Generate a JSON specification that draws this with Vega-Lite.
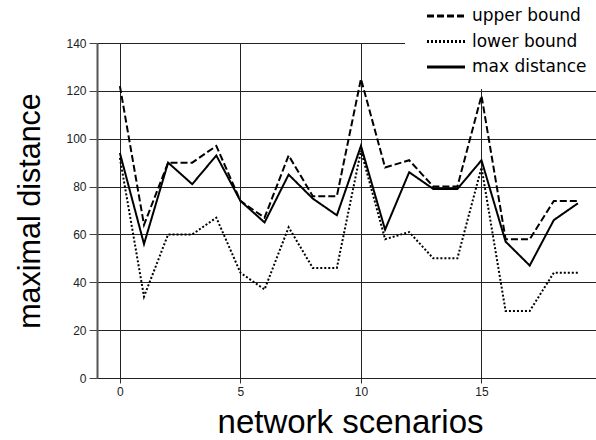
{
  "$schema": "https://vega.github.io/schema/vega-lite/v6.json",
  "width": 499,
  "height": 335,
  "autosize": {"type": "none"},
  "padding": {"left": 97, "top": 43, "right": 0, "bottom": 62},
  "background": "white",
  "config": {"view": {"stroke": null}},
  "data": {
    "values": [
      {"x": 0, "series": "upper bound", "value": 122},
      {"x": 1, "series": "upper bound", "value": 64},
      {"x": 2, "series": "upper bound", "value": 90},
      {"x": 3, "series": "upper bound", "value": 90},
      {"x": 4, "series": "upper bound", "value": 97},
      {"x": 5, "series": "upper bound", "value": 74},
      {"x": 6, "series": "upper bound", "value": 67},
      {"x": 7, "series": "upper bound", "value": 93},
      {"x": 8, "series": "upper bound", "value": 76},
      {"x": 9, "series": "upper bound", "value": 76},
      {"x": 10, "series": "upper bound", "value": 125},
      {"x": 11, "series": "upper bound", "value": 88},
      {"x": 12, "series": "upper bound", "value": 91},
      {"x": 13, "series": "upper bound", "value": 80},
      {"x": 14, "series": "upper bound", "value": 80},
      {"x": 15, "series": "upper bound", "value": 118},
      {"x": 16, "series": "upper bound", "value": 58},
      {"x": 17, "series": "upper bound", "value": 58},
      {"x": 18, "series": "upper bound", "value": 74},
      {"x": 19, "series": "upper bound", "value": 74},
      {"x": 0, "series": "lower bound", "value": 92},
      {"x": 1, "series": "lower bound", "value": 34},
      {"x": 2, "series": "lower bound", "value": 60},
      {"x": 3, "series": "lower bound", "value": 60},
      {"x": 4, "series": "lower bound", "value": 67},
      {"x": 5, "series": "lower bound", "value": 44},
      {"x": 6, "series": "lower bound", "value": 37},
      {"x": 7, "series": "lower bound", "value": 63},
      {"x": 8, "series": "lower bound", "value": 46},
      {"x": 9, "series": "lower bound", "value": 46},
      {"x": 10, "series": "lower bound", "value": 95},
      {"x": 11, "series": "lower bound", "value": 58},
      {"x": 12, "series": "lower bound", "value": 61},
      {"x": 13, "series": "lower bound", "value": 50},
      {"x": 14, "series": "lower bound", "value": 50},
      {"x": 15, "series": "lower bound", "value": 88},
      {"x": 16, "series": "lower bound", "value": 28},
      {"x": 17, "series": "lower bound", "value": 28},
      {"x": 18, "series": "lower bound", "value": 44},
      {"x": 19, "series": "lower bound", "value": 44},
      {"x": 0, "series": "max distance", "value": 94},
      {"x": 1, "series": "max distance", "value": 56},
      {"x": 2, "series": "max distance", "value": 90},
      {"x": 3, "series": "max distance", "value": 81},
      {"x": 4, "series": "max distance", "value": 93},
      {"x": 5, "series": "max distance", "value": 74},
      {"x": 6, "series": "max distance", "value": 65},
      {"x": 7, "series": "max distance", "value": 85},
      {"x": 8, "series": "max distance", "value": 75},
      {"x": 9, "series": "max distance", "value": 68},
      {"x": 10, "series": "max distance", "value": 97},
      {"x": 11, "series": "max distance", "value": 62},
      {"x": 12, "series": "max distance", "value": 86},
      {"x": 13, "series": "max distance", "value": 79},
      {"x": 14, "series": "max distance", "value": 79},
      {"x": 15, "series": "max distance", "value": 91},
      {"x": 16, "series": "max distance", "value": 57},
      {"x": 17, "series": "max distance", "value": 47},
      {"x": 18, "series": "max distance", "value": 66},
      {"x": 19, "series": "max distance", "value": 73}
    ]
  },
  "mark": {"type": "line", "strokeWidth": 2, "color": "black"},
  "encoding": {
    "x": {
      "field": "x",
      "type": "quantitative",
      "scale": {"domain": [-0.95, 19.75], "nice": false, "zero": false},
      "axis": {
        "values": [0, 5, 10, 15],
        "grid": true,
        "gridColor": "#222",
        "gridWidth": 1,
        "gridOpacity": 1,
        "domain": true,
        "domainColor": "#222",
        "domainWidth": 1,
        "ticks": true,
        "tickColor": "#333",
        "tickSize": 5,
        "labelFont": "Liberation Sans",
        "labelFontSize": 12,
        "labelColor": "#222",
        "labelPadding": 3,
        "title": "network scenarios",
        "titleFont": "Liberation Sans",
        "titleFontSize": 33,
        "titleFontWeight": "normal",
        "titleColor": "black",
        "titleX": 253,
        "titleY": 54,
        "titleBaseline": "alphabetic",
        "titleAlign": "center"
      }
    },
    "y": {
      "field": "value",
      "type": "quantitative",
      "scale": {"domain": [0, 140], "nice": false},
      "axis": {
        "values": [0, 20, 40, 60, 80, 100, 120, 140],
        "grid": true,
        "gridColor": "#222",
        "gridWidth": 1,
        "gridOpacity": 1,
        "domain": true,
        "domainColor": "#555",
        "domainWidth": 2,
        "ticks": true,
        "tickColor": "#444",
        "tickSize": 8,
        "labelFont": "Liberation Sans",
        "labelFontSize": 12,
        "labelColor": "#222",
        "labelPadding": 3,
        "title": "maximal distance",
        "titleFont": "Liberation Sans",
        "titleFontSize": 30.5,
        "titleFontWeight": "normal",
        "titleColor": "black",
        "titleAngle": -90,
        "titleX": -58,
        "titleY": 167.5,
        "titleBaseline": "alphabetic",
        "titleAlign": "center"
      }
    },
    "strokeDash": {
      "field": "series",
      "type": "nominal",
      "scale": {
        "domain": ["upper bound", "lower bound", "max distance"],
        "range": [[7, 3], [2, 2], [1, 0]]
      },
      "legend": {
        "orient": "none",
        "legendX": 308,
        "legendY": -52,
        "title": null,
        "fillColor": "white",
        "padding": 14,
        "symbolType": "M-2,0H2",
        "symbolSize": 361,
        "symbolStrokeWidth": 3,
        "symbolStrokeColor": "black",
        "symbolFillColor": "transparent",
        "symbolOffset": 16,
        "labelOffset": 15,
        "labelFont": "DejaVu Sans",
        "labelFontSize": 17,
        "labelColor": "black",
        "rowPadding": 6.5
      }
    }
  }
}
